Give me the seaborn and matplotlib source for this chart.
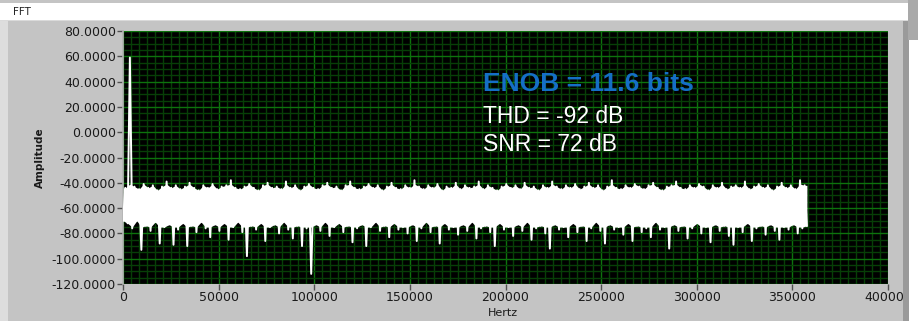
import numpy as np
import pandas as pd
import matplotlib
matplotlib.use("Agg")
import matplotlib.pyplot as plt
from matplotlib.patches import Rectangle
import seaborn as sns

plt.rcParams["path.simplify"] = False

# ---------------- data ----------------
# upper envelope of the FFT trace, one value per 2400 Hz bin (starting at 1200 Hz)
hi_db = [-44, 59,
         -43, -45, -41, -44, -42, -46, -43, -39, -44, -42,
         -45, -43, -40, -44, -46, -42, -44, -41, -45, -43,
         -42, -38, -44, -45, -43, -41, -44, -46, -42, -40,
         -44, -43, -45, -39, -44, -42, -46, -43, -41, -44,
         -45, -42, -40, -44, -43, -46, -42, -39, -44, -45,
         -43, -41, -44, -42, -46, -43, -40, -44, -45, -42,
         -44, -38, -43, -45, -42, -44, -41, -46, -43, -44,
         -40, -45, -42, -44, -43, -39, -45, -42, -44, -46,
         -43, -41, -44, -42, -45, -40, -44, -43, -46, -42,
         -44, -39, -43, -45, -42, -44, -41, -45, -43, -40,
         -44, -42, -46, -43, -38, -44, -45, -42, -44, -41,
         -43, -45, -42, -40, -44, -46, -43, -42, -39, -44,
         -45, -42, -44, -41, -43, -46, -42, -44, -40, -45,
         -43, -42, -44, -39, -45, -43, -41, -44, -42, -46,
         -43, -40, -44, -42, -45, -38, -42]

# lower envelope of the FFT trace, one value per 2400 Hz bin (starting at 0 Hz)
lo_db = [-70, -72, -76, -70, -93, -74, -78, -71, -88, -75,
         -73, -89, -77, -72, -90, -74, -79, -71, -76, -83,
         -73, -78, -72, -85, -75, -71, -79, -98, -74, -77,
         -72, -86, -75, -73, -80, -71, -77, -84, -74, -90,
         -76, -112, -73, -78, -71, -82, -75, -72, -79, -74,
         -87, -76, -73, -90, -75, -71, -78, -74, -83, -72,
         -77, -75, -80, -73, -86, -76, -71, -79, -74, -88,
         -72, -77, -75, -81, -73, -78, -71, -84, -76, -74,
         -79, -90, -72, -77, -75, -82, -73, -78, -71, -85,
         -76, -74, -80, -92, -73, -77, -75, -83, -72, -79,
         -74, -86, -76, -71, -78, -88, -73, -77, -75, -81,
         -72, -86, -74, -79, -76, -83, -71, -77, -75, -92,
         -73, -78, -74, -84, -76, -72, -80, -75, -87, -73,
         -78, -74, -82, -89, -75, -79, -72, -86, -76, -74,
         -81, -73, -78, -85, -75, -77, -73, -80, -76, -74]

bin_hz = 2400
y_ticks = [-120, -100, -80, -60, -40, -20, 0, 20, 40, 60, 80]
x_ticks = [0, 50000, 100000, 150000, 200000, 250000, 300000, 350000, 400000]
enob_text = "ENOB = 11.6 bits"
thd_text = "THD = -92 dB"
snr_text = "SNR = 72 dB"

# ---------------- build the trace ----------------
lo_hz = bin_hz * np.arange(len(lo_db)).astype(float)
hi_hz = bin_hz / 2 + bin_hz * np.arange(len(hi_db)).astype(float)
df = pd.concat([
    pd.DataFrame({"Hertz": lo_hz, "Amplitude": lo_db}),
    pd.DataFrame({"Hertz": hi_hz, "Amplitude": hi_db}),
]).sort_values("Hertz").reset_index(drop=True)

W, H = 918, 321
fig = plt.figure(figsize=(W / 100, H / 100), dpi=100)
fig.patch.set_facecolor("#c4c4c4")

def px_rect(x0, y0, x1, y1, color, z=0):
    fig.patches.append(Rectangle((x0 / W, 1 - y1 / H), (x1 - x0) / W, (y1 - y0) / H,
                                 transform=fig.transFigure, facecolor=color,
                                 edgecolor="none", zorder=z))

# window chrome
px_rect(0, 0, 8, H, "#dddddd")
px_rect(0, 0, 918, 3, "#c4c4c4")
px_rect(0, 3, 908, 20, "#ffffff")
px_rect(0, 20, 908, 21, "#dadada")
px_rect(903, 21, 909, H, "#9a9a9a")
px_rect(909, 40, 918, H, "#ffffff")
px_rect(908, 0, 918, 40, "#a9a9a9")
fig.text(13 / W, 1 - 12 / H, "FFT", fontsize=7.5, color="#222222",
         family="DejaVu Sans", va="center", ha="left")

# thin strip of the graph above
ax0 = fig.add_axes([100 / W, 1 - 3 / H, 795 / W, 3 / H])
ax0.set_facecolor("black")
ax0.set_xlim(0, 400000)
ax0.set_xticks(np.arange(0, 400001, 50000 / 12), minor=False)
ax0.grid(True, axis="x", color="#0b5a0b", lw=1)
ax0.tick_params(left=False, bottom=False, labelleft=False, labelbottom=False)
for s in ax0.spines.values():
    s.set_visible(False)

# main graph
ax = fig.add_axes([123 / W, (H - 284) / H, 765 / W, 253 / H])
ax.set_facecolor("black")
ax.set_axisbelow(True)

# solid body of the noise floor: between the two envelopes (tone and deep dips clipped)
xs = df["Hertz"].to_numpy()
core_top = np.interp(xs, hi_hz, np.minimum(np.asarray(hi_db, float), -41))
core_bot = np.interp(xs, lo_hz, np.maximum(np.asarray(lo_db, float), -75))
ax.fill_between(xs, core_top, core_bot, color="white", lw=0, zorder=2.5)

sns.lineplot(data=df, x="Hertz", y="Amplitude", color="white", linewidth=1.4,
             estimator=None, sort=True, ax=ax, zorder=3)

ax.set_xlim(0, 400000)
ax.set_ylim(-120, 80)
ax.set_yticks(y_ticks)
ax.set_yticklabels([f"{v:.4f}" for v in y_ticks])
ax.set_xticks(x_ticks)
ax.set_xticklabels([str(v) for v in x_ticks])
ax.set_yticks(np.arange(-120, 81, 5), minor=True)
ax.set_xticks(np.arange(0, 400001, 50000 / 12), minor=True)
ax.grid(True, which="minor", color="#073f07", lw=1)
ax.grid(True, which="major", color="#0d730d", lw=1)
ax.tick_params(which="minor", length=0)
ax.tick_params(which="major", direction="out", length=4, width=1, color="#505050",
               labelsize=9, labelcolor="#1a1a1a", pad=1)
for lab in ax.get_xticklabels() + ax.get_yticklabels():
    lab.set_family("DejaVu Sans")
for name, s in ax.spines.items():
    s.set_visible(False)
ax.spines["left"].set_visible(True)
ax.spines["left"].set_color("#b4b4b4")
ax.spines["left"].set_linewidth(1.2)

ax.set_ylabel("Amplitude", fontsize=7.5, fontweight="bold", color="#1a1a1a",
              family="DejaVu Sans")
ax.yaxis.set_label_coords(-0.1085, 0.5)
ax.yaxis.label.set_va("center")
ax.set_xlabel("Hertz", fontsize=8, color="#1a1a1a", family="DejaVu Sans")
ax.xaxis.set_label_coords(0.497, -0.115)
ax.xaxis.label.set_va("center")

ax.text(188200, 38, enob_text, color="#156ec6", fontsize=19, fontweight="bold",
        family="Liberation Sans", va="center", ha="left", zorder=5)
ax.text(188200, 12.4, thd_text, color="white", fontsize=16.5,
        family="Liberation Sans", va="center", ha="left", zorder=5)
ax.text(188200, -9.8, snr_text, color="white", fontsize=16.5,
        family="Liberation Sans", va="center", ha="left", zorder=5)

fig.savefig("out.png", dpi=100, facecolor=fig.get_facecolor())
